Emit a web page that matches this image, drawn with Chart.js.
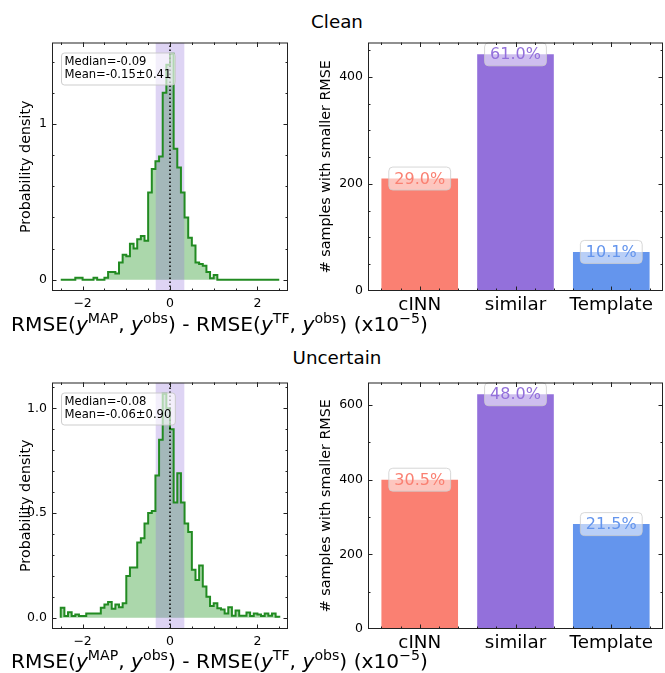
<!DOCTYPE html>
<html>
<head>
<meta charset="utf-8">
<script src="https://cdn.jsdelivr.net/npm/chart.js@4.4.1/dist/chart.umd.min.js"></script>
<style>
    body { margin: 0; background: #fff; width: 665px; height: 673px; position: relative; overflow: hidden; font-family: "DejaVu Sans", sans-serif; }
    .panel { position: absolute; }
    .title { position: absolute; left: 0; width: 674px; text-align: center; font-size: 18.3px; line-height: 1; color: #000; }
    .xlabel { position: absolute; left: 11px; font-size: 20.2px; line-height: 1; white-space: nowrap; z-index: 2; color: #000; }
    .xlabel i { font-style: oblique; }
    .xlabel sup { font-size: 0.7em; vertical-align: baseline; position: relative; top: -0.6em; line-height: 0; }
</style>
</head>
<body>
<div class="title" style="top:13px">Clean</div>
<div class="title" style="top:349px">Uncertain</div>

<div class="panel" style="left:0;top:30px"><canvas id="cleanHist" width="300" height="285"></canvas></div>
<div class="panel" style="left:300px;top:30px"><canvas id="cleanBars" width="365" height="295"></canvas></div>
<div class="panel" style="left:0;top:370px"><canvas id="uncertainHist" width="300" height="283"></canvas></div>
<div class="panel" style="left:300px;top:370px"><canvas id="uncertainBars" width="365" height="293"></canvas></div>

<div class="xlabel" style="top:314px">RMSE(<i>y</i><sup>MAP</sup>, <i>y</i><sup>obs</sup>) - RMSE(<i>y</i><sup>TF</sup>, <i>y</i><sup>obs</sup>) (x10<sup>&minus;5</sup>)</div>
<div class="xlabel" style="top:651px">RMSE(<i>y</i><sup>MAP</sup>, <i>y</i><sup>obs</sup>) - RMSE(<i>y</i><sup>TF</sup>, <i>y</i><sup>obs</sup>) (x10<sup>&minus;5</sup>)</div>

<script>
// histogram bins: 60 bins of width 1/12 starting at -2.5
const binStart = -2.5;
const binWidth = 1 / 12;

const cleanDensity = [
    0, 0, 0, 0, 0.013, 0.013, 0, 0, 0, 0.013,
    0, 0, 0.013, 0.05, 0.05, 0.04, 0.11, 0.16, 0.15, 0.23,
    0.2, 0.26, 0.28, 0.25, 0.56, 0.71, 0.76, 0.79, 1.2, 1.38,
    1.45, 0.84, 0.72, 0.56, 0.4, 0.27, 0.22, 0.11, 0.1, 0.09,
    0.05, 0.01, 0.03, 0, 0, 0, 0, 0, 0, 0,
    0, 0, 0, 0, 0, 0, 0, 0, 0, 0
];
const uncertainDensity = [
    0.048, 0.008, 0.027, 0.008, 0.016, 0.008, 0.008, 0.02, 0.02, 0.02,
    0.02, 0.048, 0.063, 0.075, 0.043, 0.063, 0.05, 0.07, 0.2, 0.24,
    0.24, 0.36, 0.38, 0.45, 0.5, 0.51, 0.68, 0.85, 1.07, 1.0,
    0.9, 0.55, 0.69, 0.55, 0.45, 0.41, 0.23, 0.18, 0.25, 0.15,
    0.1, 0.056, 0.07, 0.045, 0.04, 0.02, 0.05, 0.01, 0.035, 0.01,
    0.01, 0.025, 0.008, 0.02, 0.016, 0.008, 0.02, 0.01, 0.02, 0.005
];
const cleanStats = ['Median=-0.09', 'Mean=-0.15\u00b10.41'];
const uncertainStats = ['Median=-0.08', 'Mean=-0.06\u00b10.90'];
const similarBand = [-1 / 3, 1 / 3];

const histTicksX = [-2, 0, 2];
const cleanHistTicksY = [0, 1];
const uncertainHistTicksY = [0, 0.5, 1.0];

const methods = ['cINN', 'similar', 'Template'];
const methodColors = ['#FA8072', '#9370DB', '#6495ED'];
const cleanCounts = [210, 442, 73];
const uncertainCounts = [400, 629, 281];
const cleanBarTicksY = [0, 200, 400];
const uncertainBarTicksY = [0, 200, 400, 600];

Chart.defaults.font.family = '"DejaVu Sans", sans-serif';
Chart.defaults.color = '#000';

// axes frame with inward ticks on all four sides
const frameTicks = {
    id: 'frameTicks',
    afterDraw(chart, args, opts) {
        const ctx = chart.ctx;
        const a = chart.chartArea;
        const xs = chart.scales.x, ys = chart.scales.y;
        const steps = (scale, step) => {
            const out = [];
            for (let v = Math.ceil(scale.min / step) * step; v <= scale.max + 1e-9; v += step) out.push(v);
            return out;
        };
        ctx.save();
        ctx.strokeStyle = '#222';
        ctx.lineWidth = 1;
        ctx.beginPath();
        const xMark = (vals, len) => vals.forEach(v => {
            const px = Math.round(xs.getPixelForValue(v)) + 0.5;
            if (px < a.left || px > a.right) return;
            ctx.moveTo(px, a.bottom); ctx.lineTo(px, a.bottom - len);
            ctx.moveTo(px, a.top); ctx.lineTo(px, a.top + len);
        });
        const yMark = (vals, len) => vals.forEach(v => {
            const py = Math.round(ys.getPixelForValue(v)) + 0.5;
            if (py < a.top || py > a.bottom) return;
            ctx.moveTo(a.left, py); ctx.lineTo(a.left + len, py);
            ctx.moveTo(a.right, py); ctx.lineTo(a.right - len, py);
        });
        xMark(steps(xs, opts.xMinor), 2.5);
        xMark(opts.xMajor, 4.5);
        yMark(steps(ys, opts.yMinor), 2.5);
        yMark(opts.yMajor, 4.5);
        ctx.stroke();
        ctx.strokeRect(a.left + 0.5, a.top + 0.5, a.right - a.left - 1, a.bottom - a.top - 1);
        ctx.restore();
    }
};

// median / mean text box in the histogram panels
const statsBox = {
    id: 'statsBox',
    afterDatasetsDraw(chart, args, opts) {
        if (!opts.lines) return;
        const ctx = chart.ctx;
        const a = chart.chartArea;
        ctx.save();
        ctx.font = '11.6px "DejaVu Sans"';
        const w = Math.max(...opts.lines.map(l => ctx.measureText(l).width)) + 7;
        const h = opts.lines.length * 13 + 6;
        const x = a.left + 9, y = a.top + 10;
        ctx.beginPath();
        ctx.roundRect(x + 0.5, y + 0.5, w, h, 3);
        ctx.fillStyle = 'rgba(255,255,255,0.65)';
        ctx.fill();
        ctx.strokeStyle = 'rgba(200,200,200,0.9)';
        ctx.lineWidth = 1;
        ctx.stroke();
        ctx.fillStyle = '#000';
        ctx.textBaseline = 'middle';
        opts.lines.forEach((l, i) => ctx.fillText(l, x + 3.5, y + 9.5 + i * 13));
        ctx.restore();
    }
};

// percentage labels on top of bars
const barLabels = {
    id: 'barLabels',
    afterDatasetsDraw(chart, args, opts) {
        if (!opts.labels) return;
        const ctx = chart.ctx;
        const meta = chart.getDatasetMeta(0);
        ctx.save();
        ctx.font = '16px "DejaVu Sans"';
        ctx.textAlign = 'center';
        ctx.textBaseline = 'middle';
        meta.data.forEach((bar, i) => {
            const text = opts.labels[i];
            const w = ctx.measureText(text).width + 11, h = 23;
            ctx.beginPath();
            ctx.roundRect(bar.x - w / 2, bar.y - h / 2, w, h, 4);
            ctx.fillStyle = 'rgba(255,255,255,0.55)';
            ctx.fill();
            ctx.strokeStyle = 'rgba(205,205,205,0.8)';
            ctx.lineWidth = 1;
            ctx.stroke();
            ctx.fillStyle = opts.colors[i];
            ctx.fillText(text, bar.x, bar.y + 1);
        });
        ctx.restore();
    }
};

function stepPoints(dens) {
    const pts = [{ x: binStart, y: 0 }];
    dens.forEach((d, i) => {
        pts.push({ x: binStart + i * binWidth, y: d });
        pts.push({ x: binStart + (i + 1) * binWidth, y: d });
    });
    pts.push({ x: binStart + dens.length * binWidth, y: 0 });
    return pts;
}

function makeHist(id, dens, yTicks, yMinor, decimals, stats, topPad) {
    const peak = Math.max(...dens);
    const yMin = -0.05 * peak, yMax = 1.05 * peak;
    const pts = stepPoints(dens);
    new Chart(document.getElementById(id), {
        type: 'line',
        data: {
            datasets: [
                { data: pts, borderColor: 'rgba(0,0,0,0)', borderWidth: 0, pointRadius: 0, fill: 'origin', backgroundColor: 'rgba(34,150,34,0.38)', order: 3 },
                { data: [{ x: similarBand[0], y: yMax }, { x: similarBand[1], y: yMax }], borderColor: 'rgba(0,0,0,0)', borderWidth: 0, pointRadius: 0, fill: 'start', backgroundColor: 'rgba(147,112,219,0.3)', order: 2, clip: 0 },
                { data: pts, borderColor: '#228B22', borderWidth: 2, pointRadius: 0, fill: false, order: 1 },
                { data: [{ x: 0, y: yMin }, { x: 0, y: yMax }], borderColor: '#000', borderWidth: 1.5, borderDash: [1.5, 2.5], pointRadius: 0, fill: false, order: 0, clip: 0 }
            ]
        },
        options: {
            animation: false,
            responsive: false,
            devicePixelRatio: 1,
            events: [],
            layout: { padding: { left: 0, top: topPad, right: 12, bottom: 0 } },
            plugins: {
                legend: { display: false },
                tooltip: { enabled: false },
                frameTicks: { xMajor: histTicksX, xMinor: 0.5, yMajor: yTicks, yMinor: yMinor },
                statsBox: { lines: stats }
            },
            scales: {
                x: {
                    type: 'linear', min: -2.7, max: 2.7,
                    grid: { display: false, drawTicks: false, tickLength: 0 },
                    border: { display: false },
                    afterBuildTicks: s => { s.ticks = histTicksX.map(v => ({ value: v })); },
                    afterFit: s => { s.height = 24; },
                    ticks: {
                        font: { size: 12.5 }, padding: 5, maxRotation: 0, autoSkip: false,
                        callback: v => v < 0 ? '\u2212' + Math.abs(v) : String(v)
                    }
                },
                y: {
                    type: 'linear', min: yMin, max: yMax,
                    grid: { display: false, drawTicks: false, tickLength: 0 },
                    border: { display: false },
                    afterBuildTicks: s => { s.ticks = yTicks.map(v => ({ value: v })); },
                    afterFit: s => { s.width = 52; },
                    title: { display: true, text: 'Probability density', font: { size: 14.3 }, padding: { top: 18, bottom: 0 } },
                    ticks: { font: { size: 12.5 }, padding: 5, callback: v => v.toFixed(decimals) }
                }
            }
        },
        plugins: [frameTicks, statsBox]
    });
}

function makeBars(id, counts, yTicks, yMinor, topPad) {
    const total = counts.reduce((a, b) => a + b, 0);
    const pctLabels = counts.map(c => (c / total * 100).toFixed(1) + '%');
    const yMax = Math.max(...counts) * 1.05;
    new Chart(document.getElementById(id), {
        type: 'bar',
        data: {
            datasets: [{
                data: counts.map((c, i) => ({ x: i, y: c })),
                backgroundColor: methodColors,
                barPercentage: 0.8,
                categoryPercentage: 1.0
            }]
        },
        options: {
            animation: false,
            responsive: false,
            devicePixelRatio: 1,
            events: [],
            layout: { padding: { left: 0, top: topPad, right: 2, bottom: 0 } },
            plugins: {
                legend: { display: false },
                tooltip: { enabled: false },
                frameTicks: { xMajor: methods.map((m, i) => i), xMinor: 0.2, yMajor: yTicks, yMinor: yMinor },
                barLabels: { labels: pctLabels, colors: methodColors }
            },
            scales: {
                x: {
                    type: 'linear', min: -0.54, max: 2.54, offset: false,
                    grid: { display: false, drawTicks: false, tickLength: 0 },
                    border: { display: false },
                    afterBuildTicks: s => { s.ticks = methods.map((m, i) => ({ value: i })); },
                    afterFit: s => { s.height = 34; },
                    ticks: { font: { size: 18.3 }, padding: 3, maxRotation: 0, autoSkip: false, callback: v => methods[v] }
                },
                y: {
                    min: 0, max: yMax,
                    grid: { display: false, drawTicks: false, tickLength: 0 },
                    border: { display: false },
                    afterBuildTicks: s => { s.ticks = yTicks.map(v => ({ value: v })); },
                    afterFit: s => { s.width = 68; },
                    title: { display: true, text: '# samples with smaller RMSE', font: { size: 14.3 }, padding: { top: 18, bottom: 0 } },
                    ticks: { font: { size: 12.5 }, padding: 5 }
                }
            }
        },
        plugins: [frameTicks, barLabels]
    });
}

makeHist('cleanHist', cleanDensity, cleanHistTicksY, 0.2, 0, cleanStats, 11);
makeBars('cleanBars', cleanCounts, cleanBarTicksY, 50, 12);
makeHist('uncertainHist', uncertainDensity, uncertainHistTicksY, 0.1, 1, uncertainStats, 12);
makeBars('uncertainBars', uncertainCounts, uncertainBarTicksY, 100, 11);
</script>
</body>
</html>
